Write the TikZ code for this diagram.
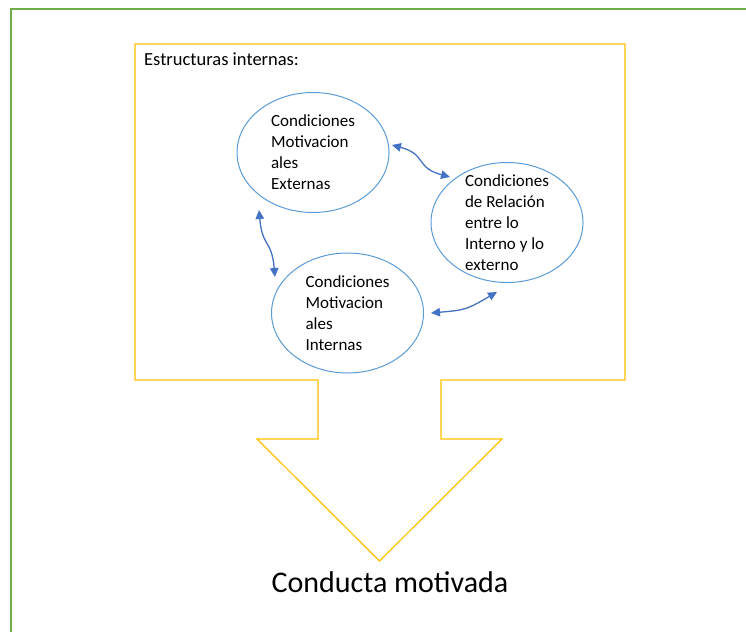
\documentclass[tikz,border=0pt]{standalone}
\usepackage{fontspec}
\setmainfont{Carlito}
\usetikzlibrary{arrows.meta,calc,shapes.geometric}
\definecolor{frameGreen}{HTML}{70AD47}
\definecolor{boxOrange}{HTML}{FFC000}
\definecolor{ellBlue}{HTML}{5B9BD5}
\definecolor{arrBlue}{HTML}{4472C4}
\tikzset{
  ell/.style={draw=ellBlue, line width=1pt, ellipse, minimum width=152pt, minimum height=120pt, inner sep=0pt},
  txt/.style={align=left, inner sep=0pt, font=\fontsize{17}{21}\selectfont, text=black},
  conn/.style={draw=arrBlue, line width=1.3pt, {Triangle[length=9pt,width=8.5pt]}-{Triangle[length=9pt,width=8.5pt]}}
}
\begin{document}
\begin{tikzpicture}[x=1pt,y=1pt]
\useasboundingbox (0,0) rectangle (746,-632);
% outer green frame (only top and left visible)
\draw[frameGreen, line width=1.5pt] (11,-632) -- (11,-9) -- (746,-9);
% orange block arrow
\draw[boxOrange, line width=1.2pt, line join=miter]
  (135,-44) -- (625,-44) -- (625,-380) -- (441,-380) -- (441,-439) -- (502,-439)
  -- (379.5,-561) -- (257,-439) -- (318,-439) -- (318,-380) -- (135,-380) -- cycle;
\node[anchor=base west, inner sep=0pt, font=\fontsize{18.5}{21}\selectfont] (title) at (144,-65) {Estructuras internas:};
% ellipses
\node[ell] (ext) at (313,-152.5) {};
\node[ell] (rel) at (507,-222.5) {};
\node[ell] (int) at (347.5,-313) {};
\node[txt] (extT) at (ext) {Condiciones\\Motivacion\\ales\\Externas};
\node[txt] (relT) at (rel) {Condiciones\\de Relación\\entre lo\\Interno y lo\\externo};
\node[txt] (intT) at (int) {Condiciones\\Motivacion\\ales\\Internas};
% connector end points
\coordinate (a1s) at ($(ext)+(79,7.5)$);
\coordinate (a1e) at ($(rel)+(-57,45.5)$);
\coordinate (a2s) at ($(ext)+(-54,-57.5)$);
\coordinate (a2e) at ($(int)+(-72.5,36)$);
\coordinate (a3s) at ($(int)+(83.5,0)$);
\coordinate (a3e) at ($(rel)+(-10,-69.5)$);
\draw[conn] (a1s) to[out=-15,in=165,looseness=1.4] (a1e);
\draw[conn] (a2s) to[out=-85,in=95,looseness=1.4] (a2e);
\draw[conn] (a3s) to[out=5,in=210,looseness=1.3] (a3e);
% bottom label
\node[anchor=base, inner sep=0pt, font=\fontsize{30}{34}\selectfont] (concl) at (390,-592) {Conducta motivada};
\end{tikzpicture}
\end{document}
